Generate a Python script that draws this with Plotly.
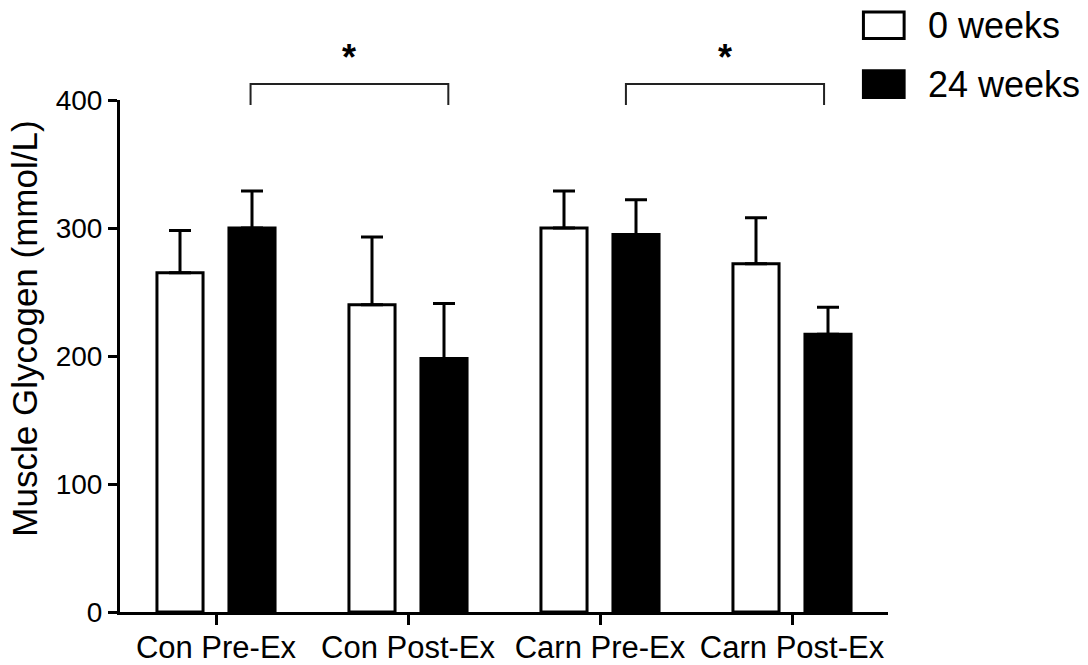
import plotly.graph_objects as go

# Muscle glycogen by group, before (0 weeks) and after (24 weeks)
categories = ["Con Pre-Ex", "Con Post-Ex", "Carn Pre-Ex", "Carn Post-Ex"]
week0_mean = [265, 240, 300, 272]
week0_sem = [33, 53, 29, 36]
week24_mean = [300, 198, 295, 217]
week24_sem = [29, 43, 27, 21]
y_ticks = [0, 100, 200, 300, 400]
y_title = "Muscle Glycogen (mmol/L)"

# significance brackets: (left x, right x) in category units, star label
brackets = [(0.18, 1.21, "*"), (2.135, 3.167, "*")]

FONT = "Liberation Sans, Arial, sans-serif"
X_RANGE = (-0.5, 3.5)
Y_RANGE = (0, 400)

x_pos = list(range(len(categories)))


def xp(v):
    return (v - X_RANGE[0]) / (X_RANGE[1] - X_RANGE[0])


def yp(v):
    return (v - Y_RANGE[0]) / (Y_RANGE[1] - Y_RANGE[0])


fig = go.Figure()
fig.add_trace(go.Bar(
    x=x_pos, y=week0_mean, name="0 weeks",
    marker=dict(color="white", line=dict(color="black", width=3)),
    error_y=dict(type="data", array=week0_sem, arrayminus=[0] * 4, symmetric=False,
                 color="black", thickness=3, width=11),
))
fig.add_trace(go.Bar(
    x=x_pos, y=week24_mean, name="24 weeks",
    marker=dict(color="black", line=dict(color="black", width=3)),
    error_y=dict(type="data", array=week24_sem, arrayminus=[0] * 4, symmetric=False,
                 color="black", thickness=3, width=11),
))

shapes = []
annotations = []
for x0, x1, label in brackets:
    top, drop = 412.5, 396
    shapes.append(dict(
        type="path", xref="paper", yref="paper",
        path=f"M {xp(x0)},{yp(drop)} L {xp(x0)},{yp(top)} L {xp(x1)},{yp(top)} L {xp(x1)},{yp(drop)}",
        line=dict(color="#222", width=2),
    ))
    annotations.append(dict(
        x=xp((x0 + x1) / 2), y=yp(433), xref="paper", yref="paper",
        text=f"<b>{label}</b>", showarrow=False, xanchor="center", yanchor="middle",
        font=dict(family=FONT, size=36, color="black"),
    ))

# legend drawn as boxes with labels, to the upper right of the plot
legend_items = [("0 weeks", "white", 1.146), ("24 weeks", "black", 1.031)]
for text, fill, yc in legend_items:
    shapes.append(dict(
        type="rect", xref="paper", yref="paper",
        x0=0.968, x1=1.021, y0=yc - 0.026, y1=yc + 0.026,
        fillcolor=fill, line=dict(color="black", width=3),
    ))
    annotations.append(dict(
        x=1.050, y=yc, xref="paper", yref="paper", text=text, showarrow=False,
        xanchor="left", yanchor="middle",
        font=dict(family=FONT, size=36, color="black"),
    ))

# vertical axis title, placed a little above the axis midpoint
annotations.append(dict(
    x=-0.124, y=0.553, xref="paper", yref="paper", text=y_title, showarrow=False,
    textangle=-90, xanchor="center", yanchor="middle",
    font=dict(family=FONT, size=35, color="black"),
))

fig.update_layout(
    width=1088, height=665,
    margin=dict(l=120, r=200, t=100, b=53, autoexpand=False),
    paper_bgcolor="white", plot_bgcolor="white",
    barmode="group", bargap=0.25, bargroupgap=0.36,
    showlegend=False,
    shapes=shapes, annotations=annotations,
    font=dict(family=FONT, color="black"),
)
fig.update_xaxes(
    range=list(X_RANGE), tickvals=x_pos, ticktext=categories,
    showline=True, linecolor="black", linewidth=3,
    ticks="outside", ticklen=10, tickwidth=3, tickcolor="black",
    ticklabelstandoff=-4,
    tickfont=dict(family=FONT, size=31, color="black"),
    showgrid=False, zeroline=False, automargin=False,
)
fig.update_yaxes(
    range=list(Y_RANGE), tickvals=y_ticks,
    showline=True, linecolor="black", linewidth=3,
    ticks="outside", ticklen=9, tickwidth=3, tickcolor="black",
    tickfont=dict(family=FONT, size=28, color="black"),
    showgrid=False, zeroline=False, automargin=False,
)

fig.write_html("out.html")
